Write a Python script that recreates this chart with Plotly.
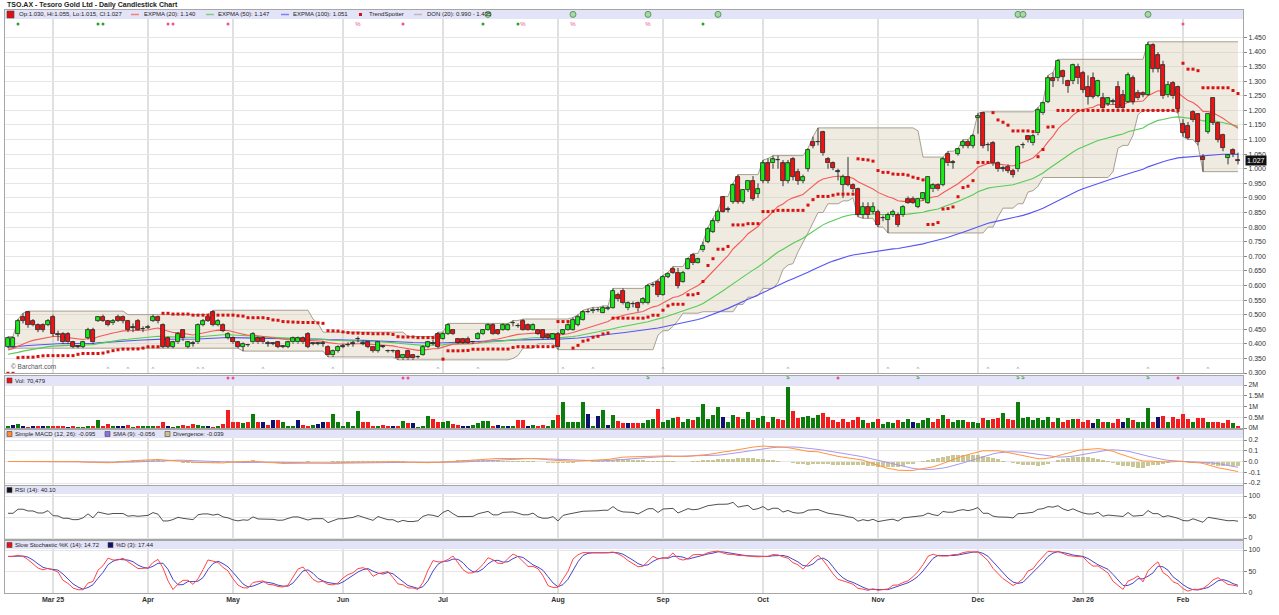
import numpy as np
import pandas as pd
import plotly.graph_objects as go
from plotly.subplots import make_subplots

chart_title = "TSO.AX - Tesoro Gold Ltd - Daily Candlestick Chart"

# ---------------- daily OHLC (trading-day index 0 = first candle) ----------------
opens = [
    .389, .389, .433, .493, .508, .478, .464, .464, .464, .493,
    .433, .433, .433, .405, .390, .389, .419, .448, .478, .493,
    .478, .470, .493, .493, .478, .455, .478, .450, .455, .478,
    .493, .464, .419, .389, .405, .448, .389, .400, .405, .464,
    .493, .508, .464, .465, .419, .419, .405, .389, .395, .405,
    .419, .419, .400, .400, .405, .390, .389, .405, .405, .419,
    .433, .400, .400, .400, .390, .360, .375, .390, .395, .400,
    .415, .400, .405, .389, .375, .390, .375, .375, .375, .350,
    .375, .363, .355, .363, .389, .400, .433, .418, .433, .447,
    .418, .418, .418, .405, .418, .433, .447, .464, .447, .447,
    .447, .470, .460, .478, .464, .447, .447, .447, .430, .418,
    .433, .433, .447, .447, .465, .482, .510, .512, .517, .507,
    .520, .522, .567, .582, .522, .535, .539, .539, .539, .600,
    .613, .567, .630, .658, .644, .613, .658, .704, .676, .720,
    .750, .784, .820, .902, .860, .887, .973, .887, .927, .958,
    .913, .958, 1.018, 1.018, 1.030, 1.018, .958, 1.032, .990, .958,
    1.000, 1.093, 1.090, 1.125, 1.032, 1.018, .990, .944, .973, .944,
    .929, .841, .870, .853, .853, .830, .824, .841, .841, .841,
    .898, .898, .870, .898, .884, .929, .944, .944, 1.050, 1.020,
    1.052, 1.078, 1.093, 1.078, 1.175, 1.190, 1.080, 1.087, 1.018, 1.000,
    1.007, .993, .998, 1.080, 1.112, 1.087, 1.121, 1.190, 1.230, 1.310,
    1.310, 1.336, 1.300, 1.300, 1.347, 1.327, 1.279, 1.310, 1.250, 1.241,
    1.222, 1.230, 1.280, 1.253, 1.230, 1.310, 1.260, 1.260, 1.253, 1.423,
    1.389, 1.354, 1.252, 1.294, 1.280, 1.152, 1.145, 1.195, 1.187, 1.040,
    1.126, 1.244, 1.157, 1.117, 1.038, 1.063, 1.030,
]
highs = [
    .425, .425, .485, .505, .512, .485, .470, .470, .485, .500,
    .445, .440, .440, .410, .395, .410, .455, .455, .495, .500,
    .482, .485, .500, .497, .482, .470, .485, .460, .465, .500,
    .497, .470, .425, .410, .440, .450, .410, .410, .470, .485,
    .500, .515, .485, .470, .440, .425, .410, .405, .400, .440,
    .425, .425, .410, .405, .410, .395, .410, .425, .425, .425,
    .440, .405, .405, .410, .395, .380, .395, .400, .405, .410,
    .425, .410, .410, .390, .410, .395, .380, .380, .380, .365,
    .380, .365, .360, .395, .410, .415, .440, .440, .470, .450,
    .420, .420, .425, .410, .440, .450, .470, .470, .450, .470,
    .470, .480, .470, .485, .470, .470, .450, .450, .435, .435,
    .440, .450, .470, .490, .500, .515, .520, .525, .525, .530,
    .530, .590, .575, .590, .545, .545, .545, .560, .605, .610,
    .620, .635, .645, .665, .660, .650, .695, .710, .695, .750,
    .800, .830, .860, .905, .870, .950, .980, .930, .960, .975,
    .950, 1.030, 1.035, 1.045, 1.045, 1.030, 1.030, 1.040, 1.000, .980,
    1.070, 1.110, 1.140, 1.130, 1.040, 1.025, 1.000, .980, 1.040, .950,
    .935, .885, .885, .885, .860, .840, .850, .860, .850, .875,
    .905, .905, .900, .920, .975, .950, .950, 1.040, 1.060, 1.030,
    1.070, 1.100, 1.100, 1.120, 1.190, 1.195, 1.090, 1.095, 1.025, 1.010,
    1.015, 1.000, 1.080, 1.090, 1.115, 1.120, 1.210, 1.230, 1.320, 1.330,
    1.375, 1.340, 1.305, 1.360, 1.360, 1.335, 1.320, 1.330, 1.305, 1.260,
    1.245, 1.240, 1.300, 1.270, 1.330, 1.320, 1.270, 1.265, 1.435, 1.430,
    1.400, 1.370, 1.300, 1.300, 1.285, 1.170, 1.160, 1.200, 1.190, 1.050,
    1.190, 1.245, 1.160, 1.120, 1.050, 1.070, 1.055,
]
lows = [
    .385, .385, .425, .470, .455, .460, .440, .440, .460, .425,
    .410, .400, .400, .385, .385, .385, .415, .400, .475, .475,
    .460, .465, .475, .470, .440, .440, .445, .440, .450, .475,
    .470, .385, .385, .385, .400, .410, .385, .390, .400, .460,
    .475, .460, .460, .440, .415, .400, .385, .375, .390, .400,
    .400, .400, .390, .395, .385, .385, .385, .400, .400, .400,
    .385, .395, .395, .390, .355, .355, .370, .385, .390, .390,
    .405, .395, .385, .370, .370, .385, .370, .370, .345, .345,
    .345, .345, .350, .360, .385, .395, .385, .415, .430, .430,
    .400, .400, .400, .400, .415, .430, .445, .430, .430, .445,
    .445, .460, .455, .445, .445, .445, .430, .415, .415, .415,
    .380, .430, .445, .445, .460, .480, .505, .505, .510, .505,
    .515, .520, .545, .535, .515, .525, .510, .535, .535, .595,
    .560, .565, .625, .640, .590, .610, .655, .670, .675, .715,
    .745, .780, .815, .850, .850, .880, .880, .880, .920, .890,
    .900, .950, .950, 1.000, 1.000, .940, .950, .960, .945, .950,
    .990, 1.070, 1.080, 1.045, 1.000, .995, .960, .900, .940, .920,
    .835, .830, .830, .845, .800, .820, .780, .835, .800, .835,
    .880, .880, .865, .890, .880, .920, .925, .940, 1.010, 1.000,
    1.045, 1.070, 1.070, 1.070, 1.120, 1.070, 1.060, 1.010, .990, .990,
    .985, .970, .990, 1.070, 1.090, 1.080, 1.115, 1.185, 1.225, 1.280,
    1.300, 1.290, 1.260, 1.290, 1.290, 1.260, 1.220, 1.240, 1.245, 1.200,
    1.215, 1.220, 1.200, 1.200, 1.225, 1.220, 1.235, 1.245, 1.250, 1.330,
    1.330, 1.240, 1.245, 1.240, 1.190, 1.110, 1.100, 1.160, 1.080, .990,
    1.120, 1.150, 1.090, 1.060, 1.015, 1.040, 1.015,
]
closes = [
    .419, .419, .478, .478, .464, .464, .448, .448, .478, .433,
    .430, .405, .405, .389, .390, .405, .448, .405, .493, .478,
    .464, .478, .478, .478, .448, .455, .448, .450, .458, .493,
    .478, .389, .389, .405, .433, .419, .405, .400, .464, .478,
    .478, .464, .478, .445, .433, .405, .389, .400, .395, .433,
    .405, .405, .400, .400, .389, .390, .405, .419, .419, .405,
    .389, .400, .400, .400, .360, .375, .389, .390, .395, .400,
    .415, .400, .389, .375, .405, .390, .375, .375, .350, .363,
    .350, .350, .355, .389, .405, .400, .389, .433, .464, .433,
    .403, .403, .403, .405, .433, .447, .464, .433, .433, .464,
    .464, .470, .460, .447, .447, .464, .433, .419, .420, .433,
    .388, .447, .464, .482, .493, .508, .508, .515, .515, .522,
    .522, .582, .553, .539, .539, .535, .522, .553, .598, .600,
    .567, .630, .641, .644, .598, .644, .689, .676, .689, .735,
    .795, .820, .853, .853, .860, .944, .887, .927, .958, .898,
    .929, 1.018, .958, 1.032, 1.030, .958, 1.018, .973, .958, .973,
    1.064, 1.079, 1.090, 1.053, 1.018, 1.003, .990, .973, .944, .929,
    .841, .870, .841, .870, .807, .830, .841, .853, .807, .870,
    .884, .884, .898, .916, .973, .944, .929, 1.032, 1.018, 1.020,
    1.066, 1.093, 1.078, 1.112, 1.180, 1.078, 1.080, 1.018, .998, 1.000,
    .993, .978, 1.076, 1.080, 1.098, 1.112, 1.201, 1.224, 1.310, 1.302,
    1.370, 1.315, 1.283, 1.355, 1.310, 1.270, 1.247, 1.247, 1.300, 1.207,
    1.241, 1.230, 1.207, 1.207, 1.320, 1.230, 1.241, 1.253, 1.424, 1.343,
    1.343, 1.248, 1.288, 1.248, 1.206, 1.123, 1.107, 1.166, 1.092, 1.029,
    1.189, 1.157, 1.100, 1.072, 1.046, 1.052, 1.027,
]
# daily volume, millions of shares
volume_m = [
    .05, .15, .20, .10, .03, .08, .08, .08, .08, .05,
    .08, .08, .03, .05, .03, .03, .08, .08, .39, .05,
    .20, .08, .05, .05, .12, .03, .08, .05, .05, .08,
    .08, .26, .05, .03, .05, .12, .05, .19, .16, .05,
    .05, .03, .05, .19, .85, .26, .26, .23, .26, .67,
    .26, .29, .16, .39, .39, .26, .05, .05, .39, .16,
    .08, .12, .19, .28, .28, .67, .26, .05, .28, .05,
    .81, .28, .28, .05, .11, .12, .05, .08, .08, .34,
    .23, .23, .03, .05, .54, .43, .26, .28, .33, .19,
    .16, .05, .08, .12, .23, .34, .34, .08, .12, .08,
    .08, .08, .39, .39, .08, .12, .05, .12, .05, .36,
    .59, 1.21, .26, .30, .28, 1.19, .65, .11, .54, .85,
    .16, .59, .34, .23, .23, .23, .23, .25, .35, .40,
    .90, .30, .35, .45, .50, .30, .40, .35, .50, 1.10,
    .40, .60, 1.00, .50, .30, .60, .50, .40, .75, .35,
    .45, .55, .30, .50, .40, .35, 1.90, .80, .45, .50,
    .55, .45, .60, .70, .50, .35, .30, .40, .30, .35,
    .50, .35, .25, .30, .40, .20, .30, .25, .35, .30,
    .40, .30, .25, .35, .45, .30, .40, .60, .40, .30,
    .35, .35, .30, .30, .25, .45, .35, .40, .45, .70,
    .40, .35, 1.20, .45, .50, .35, .45, .35, .50, .30,
    .45, .30, .35, .40, .40, .30, .35, .25, .40, .30,
    .30, .25, .40, .30, .45, .35, .30, .30, .95, .30,
    .50, .57, .30, .50, .40, .67, .42, .28, .47, .47,
    .28, .26, .28, .23, .39, .23, .07,
]

month_idx = [9, 28, 45, 67, 87, 110, 131, 151, 174, 194, 215, 235]
month_labels = ["Mar 25", "Apr", "May", "Jun", "Jul", "Aug", "Sep", "Oct", "Nov", "Dec", "Jan 26", "Feb"]
price_ticks = [0.30, 0.35, 0.40, 0.45, 0.50, 0.55, 0.60, 0.65, 0.70, 0.75, 0.80, 0.85,
               0.90, 0.95, 1.00, 1.05, 1.10, 1.15, 1.20, 1.25, 1.30, 1.35, 1.40, 1.45]
vol_ticks = [0, 0.5, 1, 1.5, 2]
vol_tick_text = ["0M", "0.5M", "1M", "1.5M", "2M"]
macd_ticks = [-0.2, -0.1, 0.0, 0.1, 0.2]
macd_tick_text = ["-0.2", "-0.1", "0.0", "0.1", "0.2"]

# levels of the averages at the left edge of the chart
ema_start = {20: 0.375, 50: 0.362, 100: 0.388}

# signal markers (candle index)
green_dot_idx = [2, 18, 19, 95, 102, 139]
pink_dot_idx = [32, 33, 44, 79, 235]
pink_pct_idx = [70, 103, 113, 128]
green_circle_idx = [96, 113, 128, 142, 202, 203, 228]
caret_idx = [20, 24, 29, 38, 39, 51, 65, 86, 94, 111, 117, 131, 156, 176, 182, 196, 202, 228, 240]
vol_pink_idx = [44, 45, 79, 80, 166, 234]
vol_dollar_idx = [128, 156, 182, 202, 203, 228]

legend_price = "Op:1.030, Hi:1.055, Lo:1.015, Cl:1.027"
legend_ema = ["EXPMA (20): 1.140", "EXPMA (50): 1.147", "EXPMA (100): 1.051"]
legend_ts = "TrendSpotter"
legend_don = "DON (20): 0.990 - 1.435"
legend_vol = "Vol: 70,479"
legend_macd = ["Simple MACD (12, 26): -0.095", "SMA (9): -0.056", "Divergence: -0.039"]
legend_rsi = "RSI (14): 40.10"
legend_sto = ["Slow Stochastic %K (14): 14.72", "%D (3): 17.44"]
last_price_label = "1.027"

# ---------------- derived series ----------------
n = min(len(opens), len(highs), len(lows), len(closes), len(volume_m))
idx = np.arange(n)
o = np.array(opens[:n]); h = np.array(highs[:n]); l = np.array(lows[:n]); c = np.array(closes[:n])
v = np.array(volume_m[:n])


def ema(vals, span, seed):
    a = 2.0 / (span + 1)
    out, prev = [], seed
    for val in vals:
        prev = prev + a * (val - prev)
        out.append(prev)
    return np.array(out)


def wilder_rsi(cl, period=14, g0=0.010, l0=0.007):
    ag, al = g0, l0
    out, prev = [], cl[0]
    for val in cl:
        d = val - prev
        prev = val
        ag = (ag * (period - 1) + max(d, 0)) / period
        al = (al * (period - 1) + max(-d, 0)) / period
        out.append(100 - 100 / (1 + ag / al) if al > 0 else 100)
    return np.array(out)


def trailing_stop(hi, lo, cl, period=14, mult=3.0):
    """Volatility (ATR) trailing stop that ratchets in steps."""
    m = len(cl)
    atr = np.zeros(m)
    atr[0] = hi[0] - lo[0]
    for t in range(1, m):
        tr = max(hi[t] - lo[t], abs(hi[t] - cl[t - 1]), abs(lo[t] - cl[t - 1]))
        atr[t] = (atr[t - 1] * (period - 1) + tr) / period
    out = np.zeros(m)
    up = True
    ext = cl[0]
    stop = cl[0] - mult * atr[0]
    for t in range(m):
        if up:
            ext = max(ext, cl[t])
            stop = max(stop, ext - mult * atr[t])
            if cl[t] < stop:
                up, ext = False, cl[t]
                stop = ext + mult * atr[t]
        else:
            ext = min(ext, cl[t])
            stop = min(stop, ext + mult * atr[t])
            if cl[t] > stop:
                up, ext = True, cl[t]
                stop = ext - mult * atr[t]
        out[t] = stop
    return out


cs = pd.Series(c)
ema20 = ema(c, 20, ema_start[20])
ema50 = ema(c, 50, ema_start[50])
ema100 = ema(c, 100, ema_start[100])
don_hi = pd.Series(h).rolling(20, min_periods=1).max().values
don_lo = pd.Series(l).rolling(20, min_periods=1).min().values
tstop = trailing_stop(h, l, c)

# "Simple" MACD: difference of simple moving averages
macd = (cs.rolling(12, min_periods=1).mean() - cs.rolling(26, min_periods=1).mean()).values
macd_sig = pd.Series(macd).rolling(9, min_periods=1).mean().values
macd_div = macd - macd_sig
rsi = wilder_rsi(c)
ll = pd.Series(l).rolling(14, min_periods=1).min()
hh = pd.Series(h).rolling(14, min_periods=1).max()
fast_k = 100 * (cs - ll) / (hh - ll).replace(0, np.nan)
slow_k = fast_k.fillna(50).rolling(3, min_periods=1).mean()
pct_d = slow_k.rolling(3, min_periods=1).mean()

# ---------------- figure ----------------
FONT = "Liberation Sans, Arial, sans-serif"
GREEN, RED, DOJI = "#14EE14", "#F21212", "#333333"

fig = make_subplots(rows=5, cols=1, shared_xaxes=True, vertical_spacing=0.0)

# Donchian channel
fig.add_trace(go.Scatter(x=idx, y=don_lo, mode="lines", line=dict(color="#A89F90", width=1),
                         hoverinfo="skip", showlegend=False), row=1, col=1)
fig.add_trace(go.Scatter(x=idx, y=don_hi, mode="lines", line=dict(color="#A89F90", width=1),
                         fill="tonexty", fillcolor="rgba(214,199,168,0.36)",
                         hoverinfo="skip", showlegend=False), row=1, col=1)
# moving averages
fig.add_trace(go.Scatter(x=idx, y=ema100, mode="lines", line=dict(color="#5555F5", width=1.1),
                         showlegend=False), row=1, col=1)
fig.add_trace(go.Scatter(x=idx, y=ema50, mode="lines", line=dict(color="#55CC55", width=1.1),
                         showlegend=False), row=1, col=1)
fig.add_trace(go.Scatter(x=idx, y=ema20, mode="lines", line=dict(color="#F55A5A", width=1.1),
                         showlegend=False), row=1, col=1)

# candles on an overlay axis so they sit above the channel fill
body_lo = np.minimum(o, c)
body_h = np.maximum(np.abs(c - o), 0.0015)
body_col = [GREEN if cc > oo else (RED if cc < oo else DOJI) for oo, cc in zip(o, c)]
wx, wy = [], []
for i in range(n):
    top, bot = max(o[i], c[i]), min(o[i], c[i])
    wx += [i, i, None, i, i, None]
    wy += [h[i], top, None, bot, l[i], None]
fig.add_trace(go.Scatter(x=wx, y=wy, mode="lines", line=dict(color="#333333", width=1),
                         hoverinfo="skip", showlegend=False, xaxis="x", yaxis="y6"))
fig.add_trace(go.Bar(x=idx, y=body_h, base=body_lo, width=0.8,
                     marker=dict(color=body_col, line=dict(color="#222222", width=0.8)),
                     showlegend=False, xaxis="x", yaxis="y6"))
fig.add_trace(go.Scatter(x=idx, y=tstop, mode="markers",
                         marker=dict(symbol="square", size=3, color="#D81010"),
                         showlegend=False, xaxis="x", yaxis="y6"))

# signal row markers
sig_y = 1.496
fig.add_trace(go.Scatter(x=green_dot_idx, y=[sig_y] * len(green_dot_idx), mode="markers",
                         marker=dict(size=3, color="#2E9E2E"), showlegend=False, xaxis="x", yaxis="y6"))
fig.add_trace(go.Scatter(x=pink_dot_idx, y=[sig_y] * len(pink_dot_idx), mode="markers",
                         marker=dict(size=3, color="#F0508C"), showlegend=False, xaxis="x", yaxis="y6"))
fig.add_trace(go.Scatter(x=pink_pct_idx, y=[sig_y] * len(pink_pct_idx), mode="text", text=["%"] * len(pink_pct_idx),
                         textfont=dict(size=6, color="#F0508C", family=FONT), showlegend=False,
                         xaxis="x", yaxis="y6"))
fig.add_trace(go.Scatter(x=green_circle_idx, y=[1.529] * len(green_circle_idx), mode="markers",
                         marker=dict(size=6, color="#A8D8A8", line=dict(color="#5A9A5A", width=1)),
                         showlegend=False, xaxis="x", yaxis="y6"))
fig.add_trace(go.Scatter(x=caret_idx, y=[0.312] * len(caret_idx), mode="text", text=["^"] * len(caret_idx),
                         textfont=dict(size=6, color="#888888", family=FONT), showlegend=False,
                         xaxis="x", yaxis="y6"))

# volume
vol_col = []
for i in range(n):
    ref = c[i - 1] if i > 0 else o[i]
    vol_col.append("#0A7D0A" if c[i] > ref else ("#F41C1C" if c[i] < ref else "#10106E"))
fig.add_trace(go.Bar(x=idx, y=v, width=0.72, marker=dict(color=vol_col, line=dict(width=0)),
                     showlegend=False), row=2, col=1)
fig.add_trace(go.Scatter(x=vol_pink_idx, y=[2.33] * len(vol_pink_idx), mode="markers",
                         marker=dict(size=3, color="#F0508C"), showlegend=False), row=2, col=1)
fig.add_trace(go.Scatter(x=vol_dollar_idx, y=[2.33] * len(vol_dollar_idx), mode="text",
                         text=["$"] * len(vol_dollar_idx),
                         textfont=dict(size=6, color="#3A9A3A", family=FONT), showlegend=False), row=2, col=1)

# MACD
fig.add_trace(go.Bar(x=idx, y=macd_div, width=0.7, marker=dict(color="rgba(186,180,112,0.75)", line=dict(width=0)),
                     showlegend=False), row=3, col=1)
fig.add_trace(go.Scatter(x=idx, y=macd_sig, mode="lines", line=dict(color="#A898F0", width=1),
                         showlegend=False), row=3, col=1)
fig.add_trace(go.Scatter(x=idx, y=macd, mode="lines", line=dict(color="#FF9440", width=1),
                         showlegend=False), row=3, col=1)
# RSI
fig.add_trace(go.Scatter(x=idx, y=rsi, mode="lines", line=dict(color="#505050", width=1),
                         showlegend=False), row=4, col=1)
# Stochastic
fig.add_trace(go.Scatter(x=idx, y=pct_d, mode="lines", line=dict(color="#4545D0", width=1),
                         showlegend=False), row=5, col=1)
fig.add_trace(go.Scatter(x=idx, y=slow_k, mode="lines", line=dict(color="#FF4545", width=1),
                         showlegend=False), row=5, col=1)

# ---------------- layout ----------------
W, H = 1279, 615
L_M, R_M, T_M, B_M = 5, 36, 10, 22
PW, PH = W - L_M - R_M, H - T_M - B_M


def px2x(px):
    return (px - L_M) / PW


def px2y(py):
    return 1 - (py - T_M) / PH


PRICE_RANGE = [0.3, 0.3 + (373 - 10) / 291.8]
fig.update_layout(
    width=W, height=H, margin=dict(l=L_M, r=R_M, t=T_M, b=B_M),
    paper_bgcolor="white", plot_bgcolor="white", showlegend=False,
    font=dict(family=FONT, size=7, color="#333333"), bargap=0, barmode="overlay",
    yaxis=dict(domain=[px2y(373), px2y(10)], range=PRICE_RANGE, tickvals=price_ticks, tickformat=".3f"),
    yaxis2=dict(domain=[px2y(428), px2y(376)], range=[0, 52 / 21.5], tickvals=vol_ticks, ticktext=vol_tick_text),
    yaxis3=dict(domain=[px2y(485), px2y(430)], range=[-23.5 / 107.5, 31.5 / 107.5],
                tickvals=macd_ticks, ticktext=macd_tick_text),
    yaxis4=dict(domain=[px2y(539), px2y(486)], range=[-1 / 0.42, 100 + 10 / 0.42], tickvals=[0, 50, 100]),
    yaxis5=dict(domain=[px2y(593), px2y(541)], range=[0, 52 / 0.43], tickvals=[0, 50, 100]),
    yaxis6=dict(overlaying="y", anchor="x", range=PRICE_RANGE, visible=False, showgrid=False),
)
fig.update_yaxes(side="right", showgrid=True, gridcolor="#E6E6E6", gridwidth=1, zeroline=False,
                 ticks="outside", ticklen=3, tickcolor="#888888", showline=True, linecolor="#A6A6A6",
                 mirror=True, tickfont=dict(size=7, color="#333333", family=FONT))
fig.update_layout(yaxis6=dict(visible=False, showgrid=False, showline=False))
fig.update_xaxes(range=[-0.6, 247.0], tickvals=month_idx, ticktext=["<b>%s</b>" % m for m in month_labels],
                 showgrid=True, gridcolor="#E0E0E0", gridwidth=1.5, zeroline=False, ticks="",
                 showline=True, linecolor="#A6A6A6", mirror=True,
                 tickfont=dict(size=7, color="#333333", family=FONT))
fig.update_xaxes(showticklabels=False)
fig.update_xaxes(showticklabels=True, row=5, col=1)

# lavender legend bands (between grid and traces)
band_specs = [("x", "y", PRICE_RANGE[1], PRICE_RANGE[1] - 9 / 291.8),
              ("x2", "y2", 52 / 21.5, 43 / 21.5),
              ("x3", "y3", 31.5 / 107.5, 23.5 / 107.5),
              ("x4", "y4", 100 + 10 / 0.42, 100 + 2 / 0.42),
              ("x5", "y5", 52 / 0.43, 44 / 0.43)]
shapes = []
for xr, yr, y0, y1 in band_specs:
    shapes.append(dict(type="rect", xref=xr, yref=yr, x0=-0.6, x1=247.0, y0=y0, y1=y1,
                       fillcolor="#E4E4F8", line=dict(width=0), layer="between"))


def sq(x0, yc, color, size=6, border="#444444"):
    shapes.append(dict(type="rect", xref="paper", yref="paper", x0=px2x(x0), x1=px2x(x0 + size),
                       y0=px2y(yc + size / 2), y1=px2y(yc - size / 2), fillcolor=color,
                       line=dict(color=border, width=0.6)))


def seg(x0, yc, color):
    shapes.append(dict(type="line", xref="paper", yref="paper", x0=px2x(x0), x1=px2x(x0 + 8),
                       y0=px2y(yc), y1=px2y(yc), line=dict(color=color, width=1.5)))


annots = []
LEG = 6


def txt(x0, yc, s, size=LEG, bold=False, color="#222222"):
    annots.append(dict(xref="paper", yref="paper", x=px2x(x0), y=px2y(yc), text=("<b>%s</b>" % s) if bold else s,
                       showarrow=False, xanchor="left", yanchor="middle",
                       font=dict(size=size, color=color, family=FONT)))


# title
annots.append(dict(xref="paper", yref="paper", x=0, y=px2y(5), text="<b>%s</b>" % chart_title,
                   showarrow=False, xanchor="left", yanchor="middle",
                   font=dict(size=7.0, color="#222222", family=FONT)))
# price legend
yc = 14.5
sq(7, yc, "#E01010", size=7)
txt(17, yc, legend_price)
seg(131, yc, "#F58080"); txt(142, yc, legend_ema[0])
seg(206, yc, "#80D080"); txt(216, yc, legend_ema[1])
seg(281, yc, "#8080F5"); txt(291, yc, legend_ema[2])
shapes.append(dict(type="rect", xref="paper", yref="paper", x0=px2x(359), x1=px2x(362),
                   y0=px2y(yc + 1.5), y1=px2y(yc - 1.5), fillcolor="#D81010", line=dict(width=0)))
txt(367, yc, legend_ts)
seg(414, yc, "#B8B8B8"); txt(425, yc, legend_don)
# volume legend
yc = 380.5
sq(7, yc, "#F01010", size=5)
txt(13, yc, legend_vol)
# MACD legend
yc = 434
sq(7, yc, "#FF8C30", size=5); txt(13, yc, legend_macd[0])
sq(105, yc, "#8A70E0", size=5); txt(111, yc, legend_macd[1])
sq(165, yc, "#C8C48C", size=5); txt(171, yc, legend_macd[2])
# RSI legend
yc = 490
sq(7, yc, "#111111", size=5); txt(13, yc, legend_rsi)
# Stochastic legend
yc = 545
sq(7, yc, "#F01010", size=5); txt(13, yc, legend_sto[0])
sq(108, yc, "#10106E", size=5); txt(114, yc, legend_sto[1])

# watermark
txt(9, 366.5, "© Barchart.com", size=6.5, color="#555555")
# last price tag
annots.append(dict(xref="paper", yref="y", x=px2x(1245), y=c[-1], text=last_price_label, showarrow=False,
                   xanchor="left", yanchor="middle", bgcolor="#111111", borderpad=1,
                   font=dict(size=7, color="white", family=FONT)))

fig.update_layout(shapes=shapes, annotations=annots)
fig.write_html("out.html")
